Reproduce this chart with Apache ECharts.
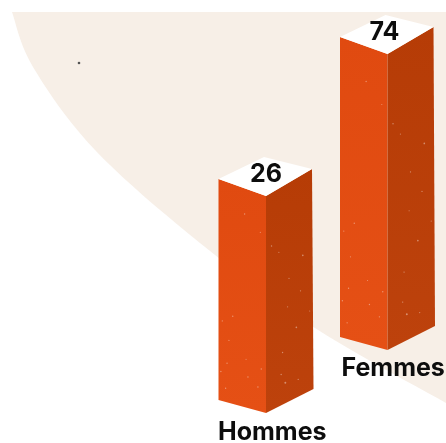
<!DOCTYPE html>
<html><head><meta charset="utf-8">
<style>html,body{margin:0;padding:0;background:#fff}#c{width:446px;height:443px}</style>
<script src="https://cdn.jsdelivr.net/npm/echarts@6/dist/echarts.min.js"></script>
</head><body><div id="c"></div>
<script>
var categories = ['Hommes', 'Femmes'];
var values = [26, 74];

// Presentation only (pixels, colours); not data.
var barHeights = [221, 300];
var labelOffsets = [[-48, 253], [-46, 331]];
var valueOffsets = [0, -3];
var flecks = [[.12,.25,1],[.55,.12,1],[.8,.38,1.2],[.3,.62,1],[.66,.7,1.2],[.18,.85,1],[.42,.93,1.4],[.9,.82,1],[.75,.54,.9],[.08,.66,.9],[.5,.45,.9],[.62,.88,1],[.28,.3,.8],[.88,.18,.8],[.36,.78,1],[.15,.97,1],[.7,.95,.9],[.22,.74,.8],[.47,.58,.8],[.83,.91,1],[.33,.88,1],[.58,.8,.8],[.95,.66,.8],[.05,.9,1]];
var edgeKnots = [[12,12],[33,67],[95,150],[200,243],[315,328],[446,403]];

function curve(k) {
  var pts = [];
  for (var i = 0; i < k.length - 1; i++) {
    var p0 = k[Math.max(i-1,0)], p1 = k[i], p2 = k[i+1], p3 = k[Math.min(i+2,k.length-1)];
    for (var t = 0; t < 1; t += 0.1) {
      var t2=t*t, t3=t2*t;
      pts.push([0,1].map(function(d){return 0.5*(2*p1[d]+(p2[d]-p0[d])*t+(2*p0[d]-5*p1[d]+4*p2[d]-p3[d])*t2+(3*p1[d]-p0[d]-3*p2[d]+p3[d])*t3);}));
    }
  }
  pts.push(k[k.length-1]);
  return pts;
}
var bgPoints = curve(edgeKnots).concat([[446,12]]);

function renderBar(params, api) {
  var i = api.value(0);
  var c = api.coord([i, api.value(1)]);
  var x = c[0], y = c[1], h = barHeights[i];
  var L=[x-47.5,y], F=[x,y+17], R=[x+46,y-10], B=[x-2,y-22];
  var off = labelOffsets[i];
  var kids = [
    {type:'polygon',shape:{points:[L,F,[F[0],F[1]+h-4],[L[0],L[1]+h]]},
     style:{fill:{type:'linear',x:0,y:0,x2:0,y2:1,colorStops:[{offset:0,color:'#E04A10'},{offset:1,color:'#E55015'}]}}},
    {type:'polygon',shape:{points:[F,R,[R[0]+1.5,R[1]+h-1],[F[0],F[1]+h-4]]},
     style:{fill:{type:'linear',x:0,y:0,x2:0,y2:1,colorStops:[{offset:0,color:'#B63C06'},{offset:1,color:'#BD420C'}]}}},
    {type:'polygon',shape:{points:[L,F,R,B]},style:{fill:'#fff'}},
    {type:'text',x:x+valueOffsets[i],y:y-5,style:{text:String(api.value(1)),fill:'#0d0d0d',font:'700 25px Inter',textAlign:'center',textVerticalAlign:'middle'}},
    {type:'text',x:x+off[0],y:y+off[1],style:{text:categories[i],fill:'#0d0d0d',font:'700 25px Inter',textAlign:'left',textVerticalAlign:'middle'}}
  ];
  flecks.forEach(function(f,j){
    var side = j % 2 === 0, u=f[0], v=f[1];
    var px = side ? F[0]+u*46 : L[0]+u*47.5;
    var py = (side ? F[1]-u*27 : L[1]+u*17) + v*(h-8);
    kids.push({type:'circle',shape:{cx:px,cy:py,r:f[2]*0.7},style:{fill:'#fff',opacity:0.4}});
  });
  return {type:'group',children:kids};
}

var chart = echarts.init(document.getElementById('c'), null, {renderer:'canvas'});
chart.setOption({
  animation:false,
  backgroundColor:'#fff',
  grid:{left:266,right:58.5,top:4.5,bottom:9.6},
  xAxis:{type:'category',boundaryGap:false,data:categories,show:false},
  yAxis:{type:'value',min:-60,max:85,show:false},
  graphic:{elements:[
    {type:'polygon',z:-10,silent:true,shape:{points:bgPoints},style:{fill:'#F7EFE7'}},
    {type:'circle',z:-9,silent:true,shape:{cx:79,cy:63,r:1.3},style:{fill:'#555'}}
  ]},
  series:[{type:'custom',renderItem:renderBar,clip:false,
    data:values.map(function(v,i){return [i,v];}),encode:{x:0,y:1}}]
});
</script></body></html>
